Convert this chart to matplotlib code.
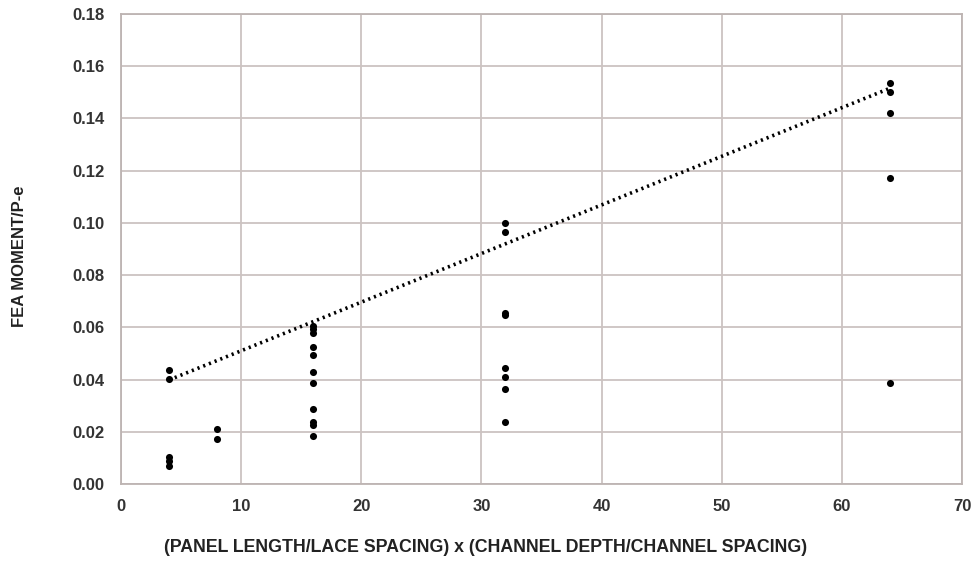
import matplotlib
matplotlib.use("Agg")
import matplotlib.pyplot as plt
import numpy as np

plt.rcParams['font.family'] = ['Liberation Sans Narrow', 'Liberation Sans', 'DejaVu Sans']

# FEA results, grouped by stiffness parameter
x_vals = [4, 4, 4, 4, 4,
          8, 8,
          16, 16, 16, 16, 16, 16, 16, 16, 16, 16, 16,
          32, 32, 32, 32, 32, 32, 32, 32,
          64, 64, 64, 64, 64]
moment = [0.0437, 0.0402, 0.0103, 0.0088, 0.0069,
          0.0210, 0.0172,
          0.0605, 0.0593, 0.0580, 0.0524, 0.0493, 0.0430, 0.0386, 0.0287, 0.0236, 0.0226, 0.0185,
          0.1001, 0.0966, 0.0654, 0.0647, 0.0443, 0.0409, 0.0364, 0.0239,
          0.1537, 0.1500, 0.1422, 0.1171, 0.0386]

# linear trendline (slope, intercept) over x = 4..64
trend_slope = 0.001862
trend_intercept = 0.0324
trend_range = [4, 64]

x_ticks = [0, 10, 20, 30, 40, 50, 60, 70]
y_ticks = [0.00, 0.02, 0.04, 0.06, 0.08, 0.10, 0.12, 0.14, 0.16, 0.18]

fig = plt.figure(figsize=(9.72, 5.70), dpi=100)
ax = fig.add_axes([0.1245, 0.1509, 0.8652, 0.8245])

tx = np.array(trend_range)
ax.plot(tx, trend_slope * tx + trend_intercept, color='black', lw=2.6,
        linestyle=(0, (0.6, 1.1)), zorder=3)
ax.scatter(x_vals, moment, s=26, color='black', zorder=4, linewidths=0)

ax.set_xlim(0, 70)
ax.set_ylim(0, 0.18)
ax.set_xticks(x_ticks)
ax.set_yticks(y_ticks)
ax.set_yticklabels([f"{v:.2f}" for v in y_ticks])
ax.grid(True, color='#ccc3c1', lw=1.3)
ax.set_axisbelow(True)
for s in ax.spines.values():
    s.set_color('#bdb4b2')
    s.set_linewidth(1.3)
ax.tick_params(axis='y', length=0, labelsize=12, pad=12)
ax.tick_params(axis='x', length=0, labelsize=12, pad=11)
for lbl in ax.get_xticklabels() + ax.get_yticklabels():
    lbl.set_fontweight('bold')
    lbl.set_color('#333333')

fig.text(0.5, 0.04, "(PANEL LENGTH/LACE SPACING) x (CHANNEL DEPTH/CHANNEL SPACING)",
         ha='center', va='center', fontsize=12.8, fontweight='bold', color='#222222')
fig.text(0.02, 0.55, "FEA MOMENT/P-e", rotation=90, ha='center', va='center',
         fontsize=12, fontweight='bold', color='#222222')

fig.savefig("out.png", dpi=100)
